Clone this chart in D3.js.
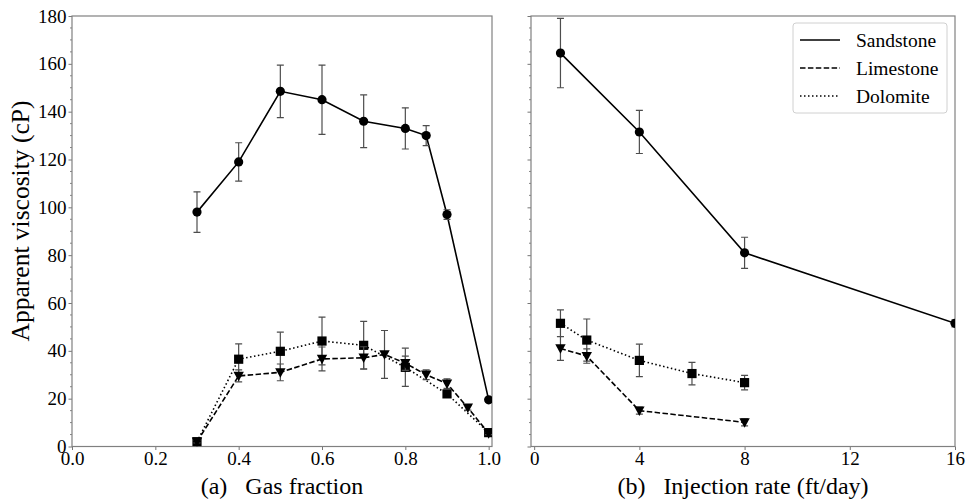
<!DOCTYPE html>
<html><head><meta charset="utf-8">
<script src="https://cdn.jsdelivr.net/npm/d3@7"></script>
<style>body{margin:0;background:#fff}svg{display:block}</style>
</head><body>
<script>
// ---- data ----
const gasFractionSand = [0.3,0.4,0.5,0.6,0.7,0.8,0.85,0.9,1.0];
const sandA = [98,119,148.5,145,136,133,130,97,19.5];
const sandAErr = [8.5,8,11,14.5,11,8.6,4.2,2,0.6];
const gasFractionLime = [0.3,0.4,0.5,0.6,0.7,0.75,0.8,0.85,0.9,0.95,1.0];
const limeA = [2,29.5,31,36.6,37.1,38.5,34.8,30,26.3,16.2,5.5];
const limeAErr = [0.5,2.5,3.5,5,4.6,10,3,2,2,1,0.5];
const gasFractionDolo = [0.3,0.4,0.5,0.6,0.7,0.8,0.9,1.0];
const doloA = [2,36.5,39.8,44.1,42.3,33.1,22,5.8];
const doloAErr = [1,6.4,8,10,10,8,1.5,1];

const rateSand = [1,4,8,16];
const sandB = [164.5,131.5,81,51.5];
const sandBErr = [14.5,9,6.5,1.5];
const rateLime = [1,2,4,8];
const limeB = [41,37.8,15,10.1];
const limeBErr = [5,3,1.5,1.5];
const rateDolo = [1,2,4,6,8];
const doloB = [51.5,44.5,36,30.5,26.7];
const doloBErr = [5.6,8.8,6.8,4.7,3];

const yTicks = [0,20,40,60,80,100,120,140,160,180];
const xTicksA = [0,0.2,0.4,0.6,0.8,1.0];
const xTicksB = [0,4,8,12,16];
const legendNames = ["Sandstone","Limestone","Dolomite"];
const yLabel = "Apparent viscosity (cP)";
const xLabelA = "(a)\u00a0\u00a0\u00a0Gas fraction";
const xLabelB = "(b)\u00a0\u00a0\u00a0Injection rate (ft/day)";

// ---- drawing ----
const FONT = "Liberation Serif";
const W = 968, H = 500;
const svg = d3.select("body").append("svg").attr("width", W).attr("height", H)
  .style("font-family", FONT);
const y = d3.scaleLinear().domain([0,180]).range([446.5,16]);
const xA = d3.scaleLinear().domain([0,1.008]).range([72,492]);
const xB = d3.scaleLinear().domain([-0.12,16.0]).range([531,955]);

const styles = { solid: null, dashed: "5.5,2.4", dotted: "1.5,2.5" };

function panel(id, x, xTicks, fmt, showYLabels, series, xlab) {
  const g = svg.append("g");
  const [x0,x1] = x.range(), [y0,y1] = y.range();
  svg.append("clipPath").attr("id", id).append("rect")
    .attr("x", x0).attr("y", y1).attr("width", x1-x0).attr("height", y0-y1);
  const ax = d3.axisBottom(x).tickValues(xTicks).tickFormat(fmt).tickSizeOuter(0).tickSizeInner(3.5).tickPadding(2);
  const gx = g.append("g").attr("transform", `translate(0,${y0})`).call(ax);
  const ay = d3.axisLeft(y).tickValues(yTicks).tickSizeOuter(0).tickSizeInner(3.5).tickPadding(2)
    .tickFormat(showYLabels ? d3.format("d") : "");
  const gy = g.append("g").attr("transform", `translate(${x0},0)`).call(ay);
  const minor = d3.range(0,181,5).filter(v => v % 20 !== 0);
  g.append("g").selectAll("line").data(minor).join("line")
    .attr("x1", x0).attr("x2", x0-2).attr("y1", d=>y(d)).attr("y2", d=>y(d))
    .attr("stroke", "#666").attr("stroke-width", 0.8);
  [gx, gy].forEach(a => {
    a.attr("font-family", null).attr("font-size", null);
    a.select(".domain").remove();
    a.selectAll(".tick line").attr("stroke", "#666").attr("stroke-width", 0.9);
    a.selectAll(".tick text").attr("fill", "#000").style("font-family", FONT).style("font-size", "19px");
  });
  g.append("rect").attr("x", x0).attr("y", y1).attr("width", x1-x0).attr("height", y0-y1)
    .attr("fill", "none").attr("stroke", "#808080").attr("stroke-width", 1.2);
  g.append("text").attr("x", (x0+x1)/2).attr("y", 494).attr("text-anchor", "middle")
    .style("font-family", FONT).style("font-size", "24px").text(xlab);

  const pg = g.append("g").attr("clip-path", `url(#${id})`);
  series.forEach(s => {
    const pts = s.xs.map((xv,i) => ({x: xv, y: s.ys[i], e: s.errs[i]}));
    const line = d3.line().x(d=>x(d.x)).y(d=>y(d.y));
    pg.append("path").datum(pts).attr("d", line).attr("fill","none")
      .attr("stroke","#000").attr("stroke-width",1.6)
      .attr("stroke-dasharray", styles[s.style]);
    const eb = pg.append("g").attr("stroke","#4d4d4d").attr("stroke-width",1.2);
    pts.forEach(d => {
      const cx = x(d.x), ya = y(d.y+d.e), yb = y(d.y-d.e);
      eb.append("line").attr("x1",cx).attr("x2",cx).attr("y1",ya).attr("y2",yb);
      eb.append("line").attr("x1",cx-3.5).attr("x2",cx+3.5).attr("y1",ya).attr("y2",ya);
      eb.append("line").attr("x1",cx-3.5).attr("x2",cx+3.5).attr("y1",yb).attr("y2",yb);
    });
    const mk = pg.append("g").attr("fill","#000");
    pts.forEach(d => {
      const cx = x(d.x), cy = y(d.y);
      if (s.marker === "circle") mk.append("circle").attr("cx",cx).attr("cy",cy).attr("r",4.6);
      else if (s.marker === "square") mk.append("rect").attr("x",cx-4.6).attr("y",cy-4.6).attr("width",9.2).attr("height",9.2);
      else mk.append("path").attr("d", `M${cx-5.2},${cy-4.2}L${cx+5.2},${cy-4.2}L${cx},${cy+5.3}Z`);
    });
  });
}

panel("clipA", xA, xTicksA, d3.format(".1f"), true, [
  {xs: gasFractionDolo, ys: doloA, errs: doloAErr, style: "dotted", marker: "square"},
  {xs: gasFractionLime, ys: limeA, errs: limeAErr, style: "dashed", marker: "triangle"},
  {xs: gasFractionSand, ys: sandA, errs: sandAErr, style: "solid", marker: "circle"}
], xLabelA);

panel("clipB", xB, xTicksB, d3.format("d"), false, [
  {xs: rateDolo, ys: doloB, errs: doloBErr, style: "dotted", marker: "square"},
  {xs: rateLime, ys: limeB, errs: limeBErr, style: "dashed", marker: "triangle"},
  {xs: rateSand, ys: sandB, errs: sandBErr, style: "solid", marker: "circle"}
], xLabelB);

svg.append("text").attr("transform", `translate(29,221) rotate(-90)`)
  .attr("text-anchor","middle").style("font-family", FONT).style("font-size","25.5px").text(yLabel);

const lg = svg.append("g");
lg.append("rect").attr("x",793).attr("y",23).attr("width",154).attr("height",90).attr("rx",3)
  .attr("fill","#fff").attr("stroke","#d0d0d0").attr("stroke-width",1);
const lstyles = ["solid","dashed","dotted"];
legendNames.forEach((n,i) => {
  const cy = 40 + i*28;
  lg.append("line").attr("x1",800).attr("x2",840).attr("y1",cy).attr("y2",cy)
    .attr("stroke","#000").attr("stroke-width",1.6).attr("stroke-dasharray", styles[lstyles[i]]);
  lg.append("text").attr("x",856).attr("y",cy).attr("dy","0.35em")
    .style("font-family", FONT).style("font-size","19.5px").text(n);
});
</script>
</body></html>
